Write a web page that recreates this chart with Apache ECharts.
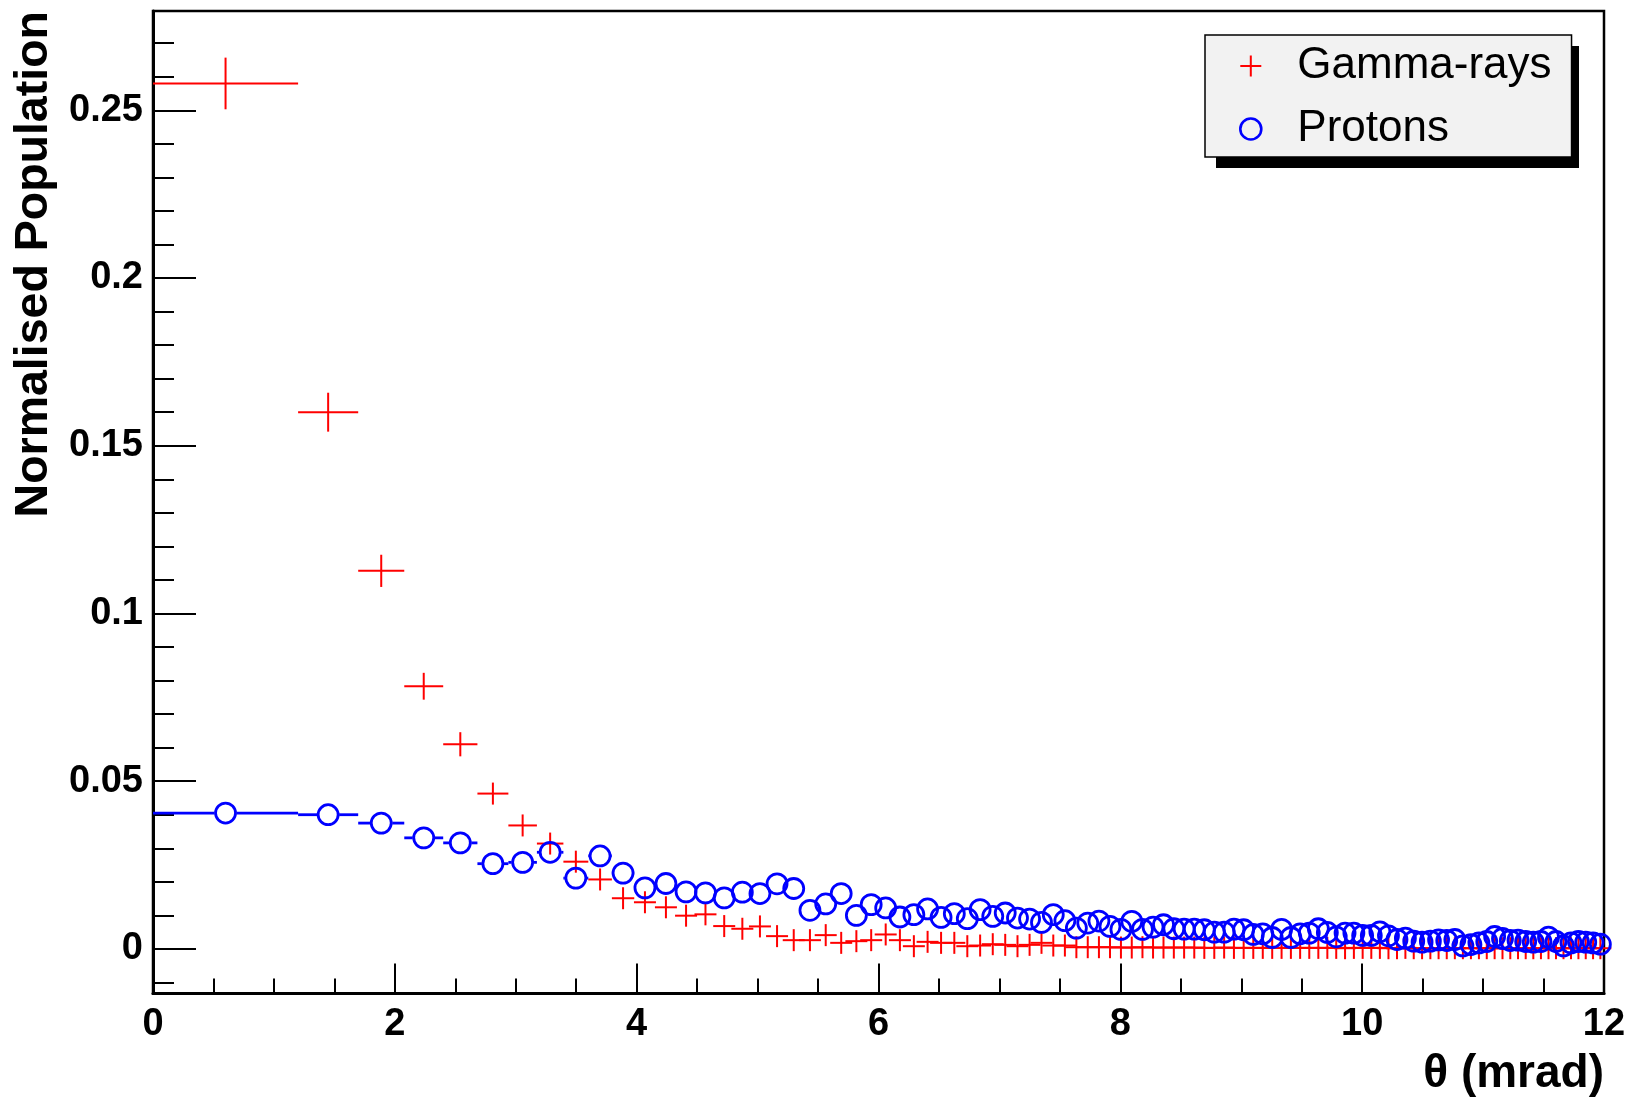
<!DOCTYPE html>
<html>
<head>
<meta charset="utf-8">
<script src="https://cdn.jsdelivr.net/npm/echarts@6/dist/echarts.min.js"></script>
<style>
html,body{margin:0;padding:0;background:#fff;}
#chart{width:1633px;height:1098px;}
</style>
</head>
<body>
<div id="chart"></div>
<script>
// Bin edges in theta (mrad) read from the error-bar extents
const binEdges = [0, 1.2, 1.697, 2.078, 2.4, 2.683, 2.939, 3.175, 3.394, 3.6,
  3.795, 3.98, 4.157, 4.327, 4.49, 4.648, 4.8, 4.948, 5.091, 5.231,
  5.367, 5.499, 5.628, 5.755, 5.879, 6.0, 6.119, 6.235, 6.35, 6.462,
  6.573, 6.681, 6.788, 6.893, 6.997, 7.099, 7.2, 7.299, 7.397, 7.494,
  7.589, 7.684, 7.777, 7.869, 7.96, 8.05, 8.139, 8.227, 8.314, 8.4,
  8.485, 8.57, 8.653, 8.736, 8.818, 8.899, 8.98, 9.06, 9.139, 9.217,
  9.295, 9.372, 9.449, 9.525, 9.6, 9.675, 9.749, 9.822, 9.895, 9.968,
  10.04, 10.111, 10.182, 10.253, 10.323, 10.392, 10.461, 10.53, 10.598, 10.666,
  10.733, 10.8, 10.866, 10.933, 10.998, 11.063, 11.128, 11.193, 11.257, 11.321,
  11.384, 11.447, 11.51, 11.572, 11.634, 11.696, 11.758, 11.819, 11.879, 11.94, 12];

const gammaRays = [0.258, 0.160, 0.1127, 0.0783, 0.061, 0.0463, 0.0368, 0.0314, 0.026, 0.0207,
  0.0151, 0.0139, 0.0124, 0.0099, 0.0103, 0.0068, 0.0060, 0.0067, 0.0038, 0.0026,
  0.0026, 0.0041, 0.0018, 0.0023, 0.0026, 0.0043, 0.0026, 0.0008, 0.0021, 0.0018,
  0.0018, 0.0008, 0.0010, 0.0014, 0.0012, 0.0008, 0.0012, 0.0018, 0.0010, 0.0010,
  0.0005, 0.0005, 0.0005, 0.0005, 0.0004, 0.0004, 0.0005, 0.0004, 0.0004, 0.0004,
  0.0004, 0.0004, 0.0003, 0.0003, 0.0004, 0.0003, 0.0003, 0.0003, 0.0003, 0.0003,
  0.0003, 0.0003, 0.0003, 0.0003, 0.0003, 0.0003, 0.0003, 0.0002, 0.0003, 0.0003,
  0.0003, 0.0003, 0.0002, 0.0002, 0.0003, 0.0002, 0.0002, 0.0002, 0.0002, 0.0002,
  0.0002, 0.0002, 0.0002, 0.0002, 0.0002, 0.0002, 0.0002, 0.0002, 0.0002, 0.0002,
  0.0002, 0.0002, 0.0002, 0.0002, 0.0002, 0.0002, 0.0002, 0.0002, 0.0002, 0.0002];

// statistical errors visible beyond the marker (first bins only)
const gammaErr = [0.0077, 0.0058, 0.0048, 0.0040, 0.0036];

const protons = [0.0405, 0.0400, 0.0375, 0.0331, 0.0316, 0.0254, 0.0258, 0.0288, 0.0211, 0.0277,
  0.0226, 0.0182, 0.0195, 0.0170, 0.0167, 0.0152, 0.0169, 0.0165, 0.0194, 0.0180,
  0.0115, 0.0134, 0.0165, 0.0100, 0.0132, 0.0122, 0.0095, 0.0102, 0.0119, 0.0094,
  0.0105, 0.0090, 0.0117, 0.0097, 0.0107, 0.0092, 0.0089, 0.0079, 0.0102, 0.0084,
  0.0062, 0.0077, 0.0083, 0.0067, 0.0058, 0.0082, 0.0058, 0.0065, 0.0072, 0.0060,
  0.0059, 0.0059, 0.0057, 0.0050, 0.0050, 0.0059, 0.0057, 0.0043, 0.0045, 0.0034,
  0.0058, 0.0034, 0.0045, 0.0047, 0.0060, 0.0049, 0.0036, 0.0047, 0.0047, 0.0040,
  0.0040, 0.0051, 0.0039, 0.0028, 0.0032, 0.0023, 0.0020, 0.0023, 0.0027, 0.0025,
  0.0028, 0.0009, 0.0013, 0.0018, 0.0022, 0.0037, 0.0031, 0.0025, 0.0026, 0.0022,
  0.0020, 0.0022, 0.0035, 0.0022, 0.0009, 0.0018, 0.0022, 0.0020, 0.0018, 0.0014];

const yMajorTicks = [0, 0.05, 0.1, 0.15, 0.2, 0.25];
const yMinorTicks = [-0.01, 0.01, 0.02, 0.03, 0.04, 0.06, 0.07, 0.08, 0.09, 0.11, 0.12, 0.13, 0.14,
  0.16, 0.17, 0.18, 0.19, 0.21, 0.22, 0.23, 0.24, 0.26, 0.27];
const yTickLabels = ['0', '0.05', '0.1', '0.15', '0.2', '0.25'];

const FONT = '"Liberation Sans", Helvetica, Arial, sans-serif';
const RED = '#ff0000', BLUE = '#0000ff';

function buildData(vals, errs) {
  const out = [];
  for (let i = 0; i < vals.length; i++) {
    const lo = binEdges[i], hi = binEdges[i + 1];
    out.push([(lo + hi) / 2, vals[i], lo, hi, (errs && errs[i]) || 0]);
  }
  return out;
}

const chart = echarts.init(document.getElementById('chart'), null, {renderer: 'canvas'});

const option = {
  animation: false,
  backgroundColor: '#ffffff',
  grid: {left: 153, right: 29, top: 11, bottom: 104.5, show: true, outerBoundsMode: 'none',
    containLabel: false,
    borderColor: '#000', borderWidth: 2.5, backgroundColor: 'transparent'},
  // hard drop shadow of the legend box
  graphic: [{type: 'rect', z: 0, left: 1216, top: 46, shape: {width: 363, height: 122},
    style: {fill: '#000'}, silent: true}],
  xAxis: {
    type: 'value', min: 0, max: 12, interval: 2,
    name: 'θ (mrad)', nameLocation: 'end', nameGap: 0,
    nameTextStyle: {fontFamily: FONT, fontWeight: 'bold', fontSize: 46, color: '#000',
      align: 'right', verticalAlign: 'top', padding: [58, 0, 0, 0]},
    axisLine: {show: true, onZero: false, lineStyle: {color: '#000', width: 3}},
    axisTick: {show: true, inside: true, length: 30, lineStyle: {color: '#000', width: 2}},
    minorTick: {show: true, splitNumber: 4, length: 15, lineStyle: {color: '#000', width: 2}},
    splitLine: {show: false},
    axisLabel: {fontFamily: FONT, fontWeight: 'bold', fontSize: 38, color: '#000', margin: 12}
  },
  yAxis: [{
    type: 'value', min: -0.0133, max: 0.2796, position: 'left',
    name: 'Normalised Population', nameLocation: 'middle', nameGap: 93,
    nameTextStyle: {fontFamily: FONT, fontWeight: 'bold', fontSize: 46.5, color: '#000',
      padding: [0, 0, 0, 476]},
    axisLine: {show: true, onZero: false, lineStyle: {color: '#000', width: 3}},
    axisTick: {show: true, inside: true, length: 43, customValues: yMajorTicks,
      lineStyle: {color: '#000', width: 2}},
    axisLabel: {fontFamily: FONT, fontWeight: 'bold', fontSize: 38, color: '#000', margin: 10,
      padding: [4, 0, 0, 0],
      customValues: yMajorTicks,
      formatter: function (v) { const i = yMajorTicks.indexOf(v); return i >= 0 ? yTickLabels[i] : ''; }},
    splitLine: {show: false}
  }, {
    type: 'value', min: -0.0133, max: 0.2796, position: 'left',
    axisLine: {show: false},
    axisTick: {show: true, inside: true, length: 21, customValues: yMinorTicks,
      lineStyle: {color: '#000', width: 2}},
    axisLabel: {show: false},
    splitLine: {show: false}
  }],
  legend: {
    orient: 'vertical', left: 1205, top: 35, z: 10,
    padding: [9, 20, 6, 34], itemGap: 19, itemWidth: 21, itemHeight: 21,
    selectedMode: false,
    backgroundColor: '#f2f2f2', borderColor: '#000', borderWidth: 1.5, borderRadius: 0,
    textStyle: {fontFamily: FONT, fontSize: 44, color: '#000', lineHeight: 44, padding: [0, 0, 0, 31]},
    data: [
      {name: 'Gamma-rays', icon: 'path://M9.5,0h2v21h-2z M0,9.5h21v2h-21z', itemStyle: {color: RED}},
      {name: 'Protons', icon: 'circle', itemStyle: {color: 'rgba(0,0,0,0)', borderColor: BLUE, borderWidth: 2.6}}
    ]
  },
  series: [{
    name: 'Gamma-rays', type: 'custom', coordinateSystem: 'cartesian2d',
    itemStyle: {color: RED},
    encode: {x: 0, y: 1},
    data: buildData(gammaRays, gammaErr),
    renderItem: function (params, api) {
      const x = api.value(0), y = api.value(1);
      const c = api.coord([x, y]);
      const l = api.coord([api.value(2), y]);
      const r = api.coord([api.value(3), y]);
      const t = api.coord([x, y + api.value(4)]);
      const arm = 11;
      const half = Math.max(arm, c[1] - t[1]);
      const st = {stroke: RED, lineWidth: 2};
      return {type: 'group', children: [
        {type: 'line', shape: {x1: Math.min(l[0], c[0] - arm), y1: c[1], x2: Math.max(r[0], c[0] + arm), y2: c[1]}, style: st},
        {type: 'line', shape: {x1: c[0], y1: c[1] - half, x2: c[0], y2: c[1] + half}, style: st}
      ]};
    }
  }, {
    name: 'Protons', type: 'custom', coordinateSystem: 'cartesian2d',
    itemStyle: {color: BLUE},
    encode: {x: 0, y: 1},
    data: buildData(protons),
    renderItem: function (params, api) {
      const x = api.value(0), y = api.value(1);
      const c = api.coord([x, y]);
      const l = api.coord([api.value(2), y]);
      const r = api.coord([api.value(3), y]);
      const R = 10;
      const st = {stroke: BLUE, lineWidth: 2.8};
      const ch = [];
      if (l[0] < c[0] - R - 1) ch.push({type: 'line', shape: {x1: l[0], y1: c[1], x2: c[0] - R - 1, y2: c[1]}, style: st});
      if (r[0] > c[0] + R + 1) ch.push({type: 'line', shape: {x1: c[0] + R + 1, y1: c[1], x2: r[0], y2: c[1]}, style: st});
      ch.push({type: 'circle', shape: {cx: c[0], cy: c[1], r: R}, style: {fill: null, stroke: BLUE, lineWidth: 2.8}});
      return {type: 'group', children: ch};
    }
  }]
};
chart.setOption(option);
</script>
</body>
</html>
